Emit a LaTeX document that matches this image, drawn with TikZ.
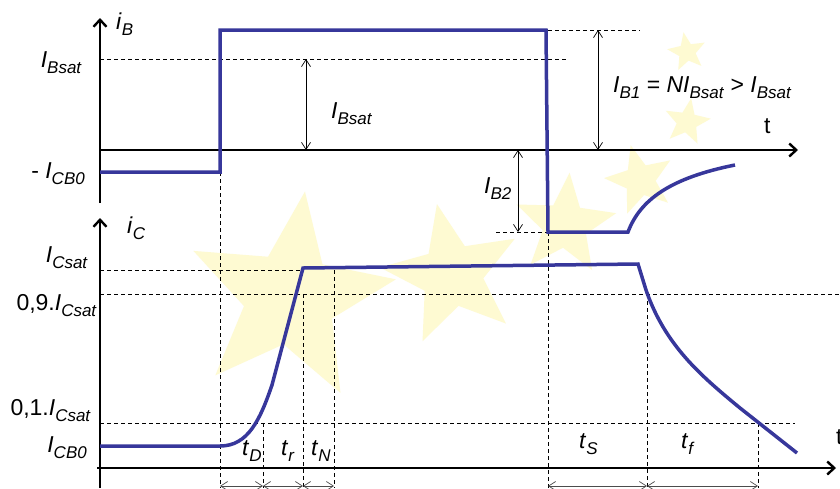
\documentclass[tikz,border=0pt]{standalone}
\usepackage{fontspec}
\setmainfont{Liberation Sans}
\usetikzlibrary{arrows.meta,shapes.geometric}
\definecolor{sig}{RGB}{55,55,155}
\definecolor{staryel}{RGB}{254,250,210}
\newcommand\lsub[2]{\textit{#1}\raisebox{-6pt}{\fontsize{17}{17}\selectfont\textit{#2}}}
\tikzset{
  axis/.style={line width=2.4pt,-{Straight Barb[length=7pt,width=13pt]}},
  guide/.style={line width=0.8pt,dash pattern=on 4pt off 3pt},
  dim/.style={line width=0.7pt,{Straight Barb[length=7pt,width=9pt]}-{Straight Barb[length=7pt,width=9pt]}},
  tdim/.style={dim,draw=black!70},
  signal/.style={line width=3.5pt,draw=sig,line join=miter},
  lbl/.style={font=\fontsize{23}{27}\selectfont,inner sep=0pt},
  starbg/.style={star,star points=5,star point ratio=2.3,fill=staryel,draw=none,inner sep=0pt}
}
\begin{document}
\begin{tikzpicture}[x=1pt,y=-1pt]
\useasboundingbox[fill=white] (0,0) rectangle (840,488);
% background stars
\node[starbg,minimum size=215pt,rotate=-8] (s1) at (290,298) {};
\node[starbg,minimum size=145pt,rotate=12] (s2) at (452,275) {};
\node[starbg,minimum size=105pt,rotate=-5] (s3) at (565,225) {};
\node[starbg,minimum size=72pt,rotate=15] (s4) at (640,180) {};
\node[starbg,minimum size=48pt,rotate=-10] (s5) at (687,122) {};
\node[starbg,minimum size=40pt,rotate=10] (s6) at (687,52) {};
% coordinates
\coordinate (tb0) at (100,203); \coordinate (tb1) at (100,18);
\coordinate (tx0) at (100,150); \coordinate (tx1) at (798,150);
\coordinate (bb0) at (100,488); \coordinate (bb1) at (100,218);
\coordinate (bx0) at (97,468);  \coordinate (bx1) at (836,468);
% guides
\coordinate (g1a) at (100,59);  \coordinate (g1b) at (566,59);
\coordinate (g2a) at (548,30);  \coordinate (g2b) at (640,30);
\coordinate (g3a) at (496,232); \coordinate (g3b) at (548,232);
\coordinate (v1a) at (220,172); \coordinate (v1b) at (220,488);
\coordinate (v2b) at (548,488);
\coordinate (h1a) at (100,270); \coordinate (h1b) at (303,270);
\coordinate (h2a) at (100,294); \coordinate (h2b) at (840,294);
\coordinate (h3a) at (100,423); \coordinate (h3b) at (795,423);
\coordinate (v3a) at (263,423); \coordinate (v3b) at (263,488);
\coordinate (v4a) at (303,294); \coordinate (v4b) at (303,488);
\coordinate (v5a) at (334,270); \coordinate (v5b) at (334,488);
\coordinate (v6a) at (647,294); \coordinate (v6b) at (647,488);
\coordinate (v7a) at (758,423); \coordinate (v7b) at (758,488);
\draw[guide] (g1a) -- (g1b);
\draw[guide] (g2a) -- (g2b);
\draw[guide] (g3a) -- (g3b);
\draw[guide] (v1a) -- (v1b);
\draw[guide] (g3b) -- (v2b);
\draw[guide] (h1a) -- (h1b);
\draw[guide] (h2a) -- (h2b);
\draw[guide] (h3a) -- (h3b);
\draw[guide] (v3a) -- (v3b);
\draw[guide] (v4a) -- (v4b);
\draw[guide] (v5a) -- (v5b);
\draw[guide] (v6a) -- (v6b);
\draw[guide] (v7a) -- (v7b);
% dimension arrows
\coordinate (d1a) at (306,59);  \coordinate (d1b) at (306,150);
\coordinate (d2a) at (598,30);  \coordinate (d2b) at (598,150);
\coordinate (d3a) at (518,150); \coordinate (d3b) at (518,232);
\draw[dim] (d1a) -- (d1b);
\draw[dim] (d2a) -- (d2b);
\draw[dim] (d3a) -- (d3b);
\coordinate (e1) at (220,486); \coordinate (e2) at (263,486);
\coordinate (e3) at (303,486); \coordinate (e4) at (334,486);
\coordinate (e5) at (548,486); \coordinate (e6) at (647,486);
\coordinate (e7) at (758,486);
\draw[tdim] (e1) -- (e2);
\draw[tdim] (e2) -- (e3);
\draw[tdim] (e3) -- (e4);
\draw[tdim] (e5) -- (e6);
\draw[tdim] (e6) -- (e7);
% axes
\draw[axis] (tb0) -- (tb1);
\draw[axis] (tx0) -- (tx1);
\draw[axis] (bb0) -- (bb1);
\draw[axis] (bx0) -- (bx1);
% signals
\draw[signal] (100,172) -- (220,172) -- (220,30) -- (546,30) -- (548,232) -- (628,232)
  .. controls (640,200) and (670,178) .. (735,165);
\draw[signal] (100,446) -- (220,446) .. controls (248,446) and (260,420) .. (272,385)
  -- (303,268) -- (638,264) -- (646,290) .. controls (665,345) and (700,375) .. (740,408) -- (797,453);
% labels
\node[lbl,anchor=base west] (iB) at (116,29) {\lsub{i}{B}};
\node[lbl,anchor=base east] (lIBsat) at (82,67) {\lsub{I}{Bsat}};
\node[lbl,anchor=base east] (lICB0a) at (85,178) {- \lsub{I}{CB0}};
\node[lbl,anchor=base west] (mIBsat) at (331,118) {\lsub{I}{Bsat}};
\node[lbl,anchor=base west] (IB1) at (613,92) {\lsub{I}{B1} = \textit{N}\lsub{I}{Bsat} > \lsub{I}{Bsat}};
\node[lbl,anchor=base west] (tt) at (764,133) {t};
\node[lbl,anchor=base west] (IB2) at (484,193) {\lsub{I}{B2}};
\node[lbl,anchor=base west] (iC) at (127,233) {\lsub{i}{C}};
\node[lbl,anchor=base east] (ICsat) at (88,262) {\lsub{I}{Csat}};
\node[lbl,anchor=base east] (I09) at (97,310) {0,9.\lsub{I}{Csat}};
\node[lbl,anchor=base east] (I01) at (91,415) {0,1.\lsub{I}{Csat}};
\node[lbl,anchor=base east] (ICB0b) at (87,452) {\lsub{I}{CB0}};
\node[lbl,anchor=base west] (tD) at (242,455) {\lsub{t}{D}};
\node[lbl,anchor=base west] (tr) at (281,455) {\lsub{t}{r}};
\node[lbl,anchor=base west] (tN) at (311,455) {\lsub{t}{N}};
\node[lbl,anchor=base west] (tS) at (579,448) {\lsub{t}{S}};
\node[lbl,anchor=base west] (tf) at (681,448) {\lsub{t}{f}};
\node[lbl,anchor=base west] (tt2) at (836,444) {t};
\end{tikzpicture}
\end{document}
